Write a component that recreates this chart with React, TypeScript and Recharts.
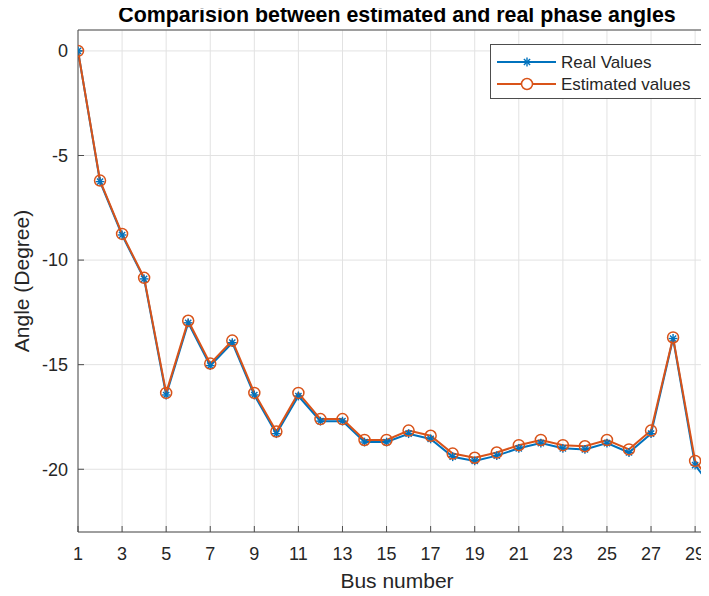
import React from 'react';
import { CartesianGrid, Line, LineChart, XAxis, YAxis } from 'recharts';

const busNumbers = [1, 2, 3, 4, 5, 6, 7, 8, 9, 10, 11, 12, 13, 14, 15, 16, 17, 18, 19, 20, 21, 22, 23, 24, 25, 26, 27, 28, 29, 30];
const realValues = [0, -6.25, -8.8, -10.9, -16.45, -13.0, -15.05, -13.95, -16.45, -18.3, -16.5, -17.7, -17.7, -18.7, -18.7, -18.3, -18.55, -19.4, -19.6, -19.35, -19.0, -18.75, -19.0, -19.05, -18.75, -19.2, -18.3, -13.75, -19.8, -21.2];
const estimatedValues = [0, -6.2, -8.75, -10.85, -16.35, -12.9, -14.95, -13.85, -16.35, -18.2, -16.35, -17.6, -17.6, -18.6, -18.6, -18.15, -18.4, -19.25, -19.45, -19.2, -18.85, -18.6, -18.85, -18.9, -18.6, -19.05, -18.15, -13.7, -19.6, -21.0];
const xTicks = [1, 3, 5, 7, 9, 11, 13, 15, 17, 19, 21, 23, 25, 27, 29];
const yTicks = [-20, -15, -10, -5, 0];

const data = busNumbers.map((bus, i) => ({ bus, real: realValues[i], estimated: estimatedValues[i] }));

const BLUE = '#0072BD';
const ORANGE = '#D95319';
const AXIS = '#4d4d4d';
const TEXT = '#262626';
const FONT = '"Liberation Sans", Arial, Helvetica, sans-serif';
const X_DOMAIN: [number, number] = [1, 29.63];

const Asterisk = (props: any) => {
  const { cx, cy, index } = props;
  if (cx == null || cy == null) return <g key={index} />;
  const r = 4.4;
  const d = 3.1;
  return (
    <g key={index} stroke={BLUE} strokeWidth={1.4}>
      <line x1={cx - r} y1={cy} x2={cx + r} y2={cy} />
      <line x1={cx} y1={cy - r} x2={cx} y2={cy + r} />
      <line x1={cx - d} y1={cy - d} x2={cx + d} y2={cy + d} />
      <line x1={cx - d} y1={cy + d} x2={cx + d} y2={cy - d} />
    </g>
  );
};

function LegendBox() {
  return (
    <svg
      width={213}
      height={56}
      style={{ position: 'absolute', left: 490, top: 44, fontFamily: FONT }}
    >
      <rect x={0.5} y={0.5} width={211} height={54} fill="#fff" stroke={AXIS} strokeWidth={1} />
      <line x1={7} y1={18} x2={66} y2={18} stroke={BLUE} strokeWidth={2} />
      <Asterisk cx={37} cy={18} index={0} />
      <text x={71} y={24} fontSize={17} fill={TEXT}>Real Values</text>
      <line x1={7} y1={40} x2={66} y2={40} stroke={ORANGE} strokeWidth={2} />
      <circle cx={37} cy={40} r={5.5} fill="#fff" stroke={ORANGE} strokeWidth={1.5} />
      <text x={71} y={46} fontSize={17} fill={TEXT}>Estimated values</text>
    </svg>
  );
}

export default function App() {
  return (
    <div style={{ position: 'relative', width: 709, height: 596, margin: -8, background: '#fff' }}>
      <LineChart
        width={709}
        height={596}
        data={data}
        margin={{ top: 29, right: 0, left: 0, bottom: 0 }}
        style={{ fontFamily: FONT }}
      >
        <CartesianGrid stroke="#e2e2e2" strokeWidth={1} />
        <XAxis
          dataKey="bus"
          type="number"
          domain={X_DOMAIN}
          allowDataOverflow
          ticks={xTicks}
          height={64}
          stroke={AXIS}
          tickSize={-6}
          tickMargin={21}
          tick={{ fill: TEXT, fontSize: 18 }}
          label={{
            content: () => (
              <text x={397} y={588} textAnchor="middle" fontSize={21} fill={TEXT} fontFamily={FONT}>
                Bus number
              </text>
            ),
          }}
        />
        <XAxis
          xAxisId="top"
          orientation="top"
          dataKey="bus"
          type="number"
          domain={X_DOMAIN}
          allowDataOverflow
          ticks={xTicks}
          height={1}
          stroke={AXIS}
          tickSize={-6}
          tick={false}
          label={{
            content: () => (
              <text x={397} y={22} textAnchor="middle" fontSize={21.4} fontWeight="bold" fill="#000" fontFamily={FONT}>
                Comparision between estimated and real phase angles
              </text>
            ),
          }}
        />
        <YAxis
          type="number"
          domain={[-23, 1]}
          allowDataOverflow
          ticks={yTicks}
          width={78}
          stroke={AXIS}
          tickSize={-6}
          tickMargin={16}
          tick={{ fill: TEXT, fontSize: 18 }}
          label={{
            content: () => (
              <text
                x={29}
                y={281}
                transform="rotate(-90 29 281)"
                textAnchor="middle"
                fontSize={21}
                fill={TEXT}
                fontFamily={FONT}
              >
                Angle (Degree)
              </text>
            ),
          }}
        />
        <Line
          dataKey="real"
          stroke={BLUE}
          strokeWidth={2}
          dot={Asterisk}
          isAnimationActive={false}
        />
        <Line
          xAxisId="top"
          dataKey="estimated"
          stroke={ORANGE}
          strokeWidth={2}
          dot={{ r: 5.5, stroke: ORANGE, strokeWidth: 1.5, fill: 'none' }}
          isAnimationActive={false}
        />
      </LineChart>
      <LegendBox />
    </div>
  );
}
